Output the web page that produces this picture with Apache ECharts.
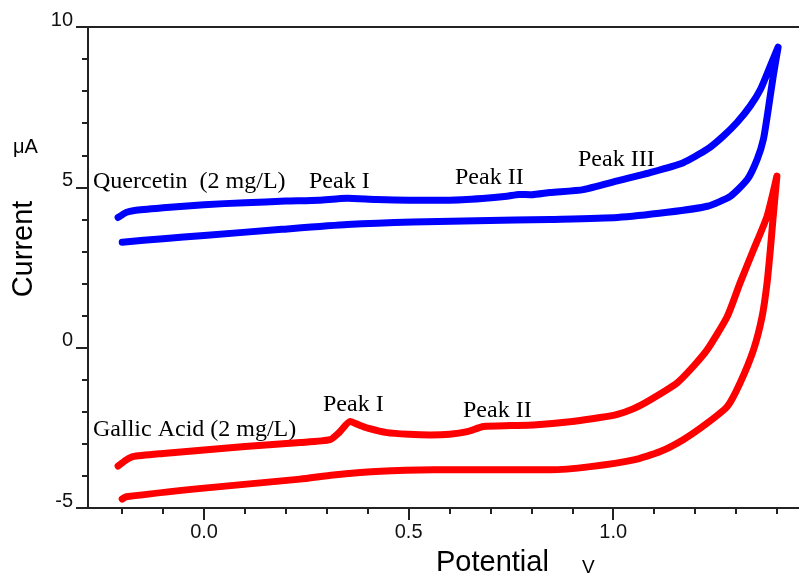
<!DOCTYPE html>
<html>
<head>
<meta charset="utf-8">
<script src="https://cdn.jsdelivr.net/npm/echarts@6/dist/echarts.min.js"></script>
<style>
html, body { margin: 0; padding: 0; background: #fff; }
#main { width: 799px; height: 581px; }
</style>
</head>
<body>
<div id="main"></div>
<script type="text/javascript">
// quercetin, forward (upper) scan
var qForwardE = [-0.21, -0.19, -0.17, -0.1, 0.0, 0.1, 0.2, 0.28, 0.35, 0.42, 0.5, 0.6, 0.68, 0.74, 0.77, 0.8, 0.846, 0.927, 1.01, 1.09, 1.171, 1.23, 1.269, 1.303, 1.335, 1.36, 1.384, 1.403];
var qForwardI = [4.06, 4.22, 4.28, 4.36, 4.46, 4.52, 4.57, 4.6, 4.66, 4.62, 4.6, 4.6, 4.65, 4.72, 4.78, 4.77, 4.84, 4.93, 5.2, 5.46, 5.77, 6.19, 6.6, 7.03, 7.54, 8.06, 8.79, 9.37];
// quercetin, reverse (lower) scan
var qReverseE = [1.391, 1.379, 1.367, 1.352, 1.328, 1.286, 1.23, 1.132, 1.01, 0.846, 0.76, 0.51, 0.35, 0.19, 0.0, -0.1, -0.2];
var qReverseI = [8.47, 7.44, 6.5, 5.88, 5.25, 4.72, 4.41, 4.22, 4.06, 4.0, 3.98, 3.92, 3.84, 3.69, 3.5, 3.4, 3.29];
// gallic acid, forward scan
var gForwardE = [-0.21, -0.19, -0.175, -0.1, 0.0, 0.1, 0.235, 0.308, 0.33, 0.357, 0.38, 0.4, 0.447, 0.5, 0.553, 0.6, 0.643, 0.683, 0.75, 0.805, 0.9, 0.968, 1.01, 1.05, 1.09, 1.156, 1.196, 1.23, 1.279, 1.31, 1.343, 1.376, 1.40];
var gForwardI = [-3.69, -3.5, -3.4, -3.3, -3.19, -3.08, -2.96, -2.87, -2.65, -2.3, -2.42, -2.51, -2.65, -2.7, -2.72, -2.7, -2.62, -2.46, -2.43, -2.41, -2.3, -2.18, -2.08, -1.9, -1.63, -1.1, -0.58, -0.06, 0.98, 2.02, 3.06, 4.1, 5.35];
// gallic acid, reverse scan
var gReverseE = [1.391, 1.384, 1.376, 1.364, 1.343, 1.31, 1.279, 1.23, 1.171, 1.115, 1.05, 0.944, 0.846, 0.56, 0.42, 0.316, 0.235, 0.0, -0.19, -0.2];
var gReverseI = [4.1, 3.06, 2.02, 0.98, -0.06, -1.1, -1.83, -2.35, -2.87, -3.24, -3.5, -3.71, -3.81, -3.81, -3.86, -3.97, -4.1, -4.38, -4.65, -4.72];

var xMajorTicks = [0.0, 0.5, 1.0];
var xMinorTicks = [-0.2, -0.1, 0.0, 0.1, 0.2, 0.3, 0.4, 0.5, 0.6, 0.7, 0.8, 0.9, 1.0, 1.1, 1.2, 1.3, 1.4];

function zip(e, i) {
    var out = [];
    for (var k = 0; k < e.length; k++) out.push([e[k], i[k]]);
    return out;
}

var quercetin = zip(qForwardE, qForwardI).concat(zip(qReverseE, qReverseI));
var gallic = zip(gForwardE, gForwardI).concat(zip(gReverseE, gReverseI));

var myChart = echarts.init(document.getElementById('main'));
var axisColor = '#222';
var sans = 'Liberation Sans, Arial, sans-serif';
var serif = 'Liberation Serif, Times New Roman, serif';
var xMin = -0.2836, xMax = 1.454;

function note(text, x, y) {
    return {
        type: 'text', left: x, top: y,
        style: { text: text, fill: '#000', font: '24px ' + serif }
    };
}

var myOption = {
    animation: false,
    backgroundColor: '#fff',
    grid: { left: 88, right: 0, top: 27, bottom: 73 },
    xAxis: [
        {
            type: 'value', position: 'bottom', min: xMin, max: xMax,
            axisLine: { onZero: false, lineStyle: { color: axisColor, width: 2 } },
            axisTick: { customValues: xMajorTicks, length: 12, lineStyle: { color: axisColor, width: 2 } },
            axisLabel: {
                customValues: xMajorTicks, margin: 14, color: '#111',
                fontFamily: sans, fontSize: 20,
                formatter: function (v) { return v.toFixed(1); }
            },
            splitLine: { show: false }
        },
        {
            type: 'value', position: 'bottom', min: xMin, max: xMax,
            axisLine: { show: false, onZero: false },
            axisTick: { customValues: xMinorTicks, length: 6, lineStyle: { color: axisColor, width: 2 } },
            axisLabel: { show: false },
            splitLine: { show: false }
        },
        {
            type: 'value', position: 'top', min: xMin, max: xMax,
            axisLine: { onZero: false, lineStyle: { color: axisColor, width: 2 } },
            axisTick: { show: false },
            axisLabel: { show: false },
            splitLine: { show: false }
        }
    ],
    yAxis: [
        {
            type: 'value', min: -5, max: 10, interval: 5,
            axisLine: { show: true, onZero: false, lineStyle: { color: axisColor, width: 2 } },
            axisTick: { show: true, length: 12, lineStyle: { color: axisColor, width: 2 } },
            axisLabel: {
                margin: 15, color: '#111', fontFamily: sans, fontSize: 20,
                verticalAlign: 'bottom', lineHeight: 14
            },
            splitLine: { show: false }
        },
        {
            type: 'value', min: -5, max: 10, interval: 1, position: 'left',
            axisLine: { show: false, onZero: false },
            axisTick: { show: true, length: 6, lineStyle: { color: axisColor, width: 2 } },
            axisLabel: { show: false },
            splitLine: { show: false }
        }
    ],
    series: [
        {
            name: 'Quercetin', type: 'line', data: quercetin,
            showSymbol: false, symbol: 'none', smooth: 0.2,
            lineStyle: { color: '#0000ff', width: 7, join: 'round', cap: 'round' }
        },
        {
            name: 'Gallic Acid', type: 'line', data: gallic,
            showSymbol: false, symbol: 'none', smooth: 0.2,
            lineStyle: { color: '#ff0000', width: 7, join: 'round', cap: 'round' }
        }
    ],
    graphic: [
        { type: 'text', left: 436, top: 548, style: { text: 'Potential', fill: '#000', font: '29px ' + sans } },
        { type: 'text', left: 582, top: 558, style: { text: 'V', fill: '#000', font: '19px ' + sans } },
        { type: 'text', left: 13, top: 137, style: { text: 'μA', fill: '#000', font: '20px ' + sans } },
        {
            type: 'text', x: 24, y: 249, rotation: Math.PI / 2,
            style: { text: 'Current', fill: '#000', font: '29px ' + sans, align: 'center', verticalAlign: 'middle' }
        },
        note('Quercetin  (2 mg/L)', 93, 170),
        note('Peak I', 309, 170),
        note('Peak II', 455, 166),
        note('Peak III', 578, 148),
        note('Gallic Acid (2 mg/L)', 93, 418),
        note('Peak I', 323, 393),
        note('Peak II', 463, 399)
    ]
};

myChart.setOption(myOption);
</script>
</body>
</html>
